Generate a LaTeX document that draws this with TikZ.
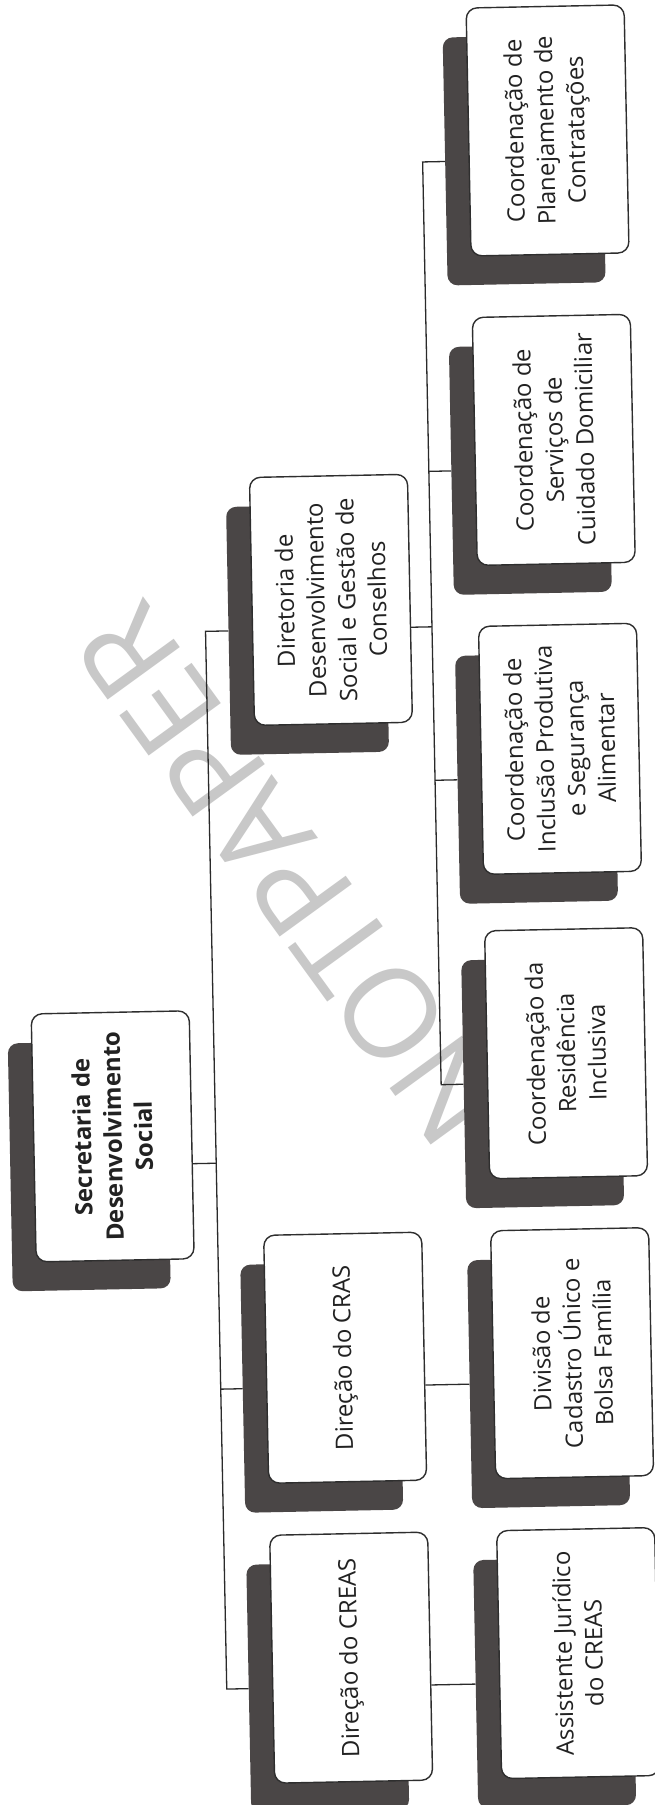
\documentclass[tikz,border=0pt]{standalone}
\usepackage{fontspec}
\setmainfont{Open Sans}
\definecolor{shadowgray}{HTML}{4A4646}
\definecolor{boxline}{HTML}{2E2E2E}
\definecolor{linecol}{HTML}{2A2A2A}
\definecolor{txt}{HTML}{222222}
\definecolor{wmgray}{HTML}{C8C8C8}
\begin{document}
\begin{tikzpicture}[x=1pt,y=1pt,
  box/.style={draw=boxline, line width=1.4pt, fill=white, rounded corners=11pt,
    rotate=90, minimum width=248pt, minimum height=158pt, inner sep=3pt,
    align=center, text=txt, font=\fontsize{24}{30.7}\selectfont},
  boxshade/.style={fill=shadowgray, rounded corners=10pt, rotate=90,
    minimum width=248pt, minimum height=158pt, inner sep=0pt},
  link/.style={draw=linecol, line width=1.3pt}]
% Page
\useasboundingbox (0,0) rectangle (654,-1805);
\fill[white] (0,0) rectangle (654,-1805);

% Watermark
\node[rotate=126, text=wmgray, font=\fontsize{125}{125}\selectfont] (wm) at (290,-875) {NOTPAPER};

\begin{scope}[rotate around={1.15:(327,-902)}, transform shape]
% Shadows and boxes
\foreach \n/\x/\y/\t in {
    plan/563/135/{Coordenação de\\Planejamento de\\Contratações},
    serv/563/444.5/{Coordenação de\\Serviços de\\Cuidado Domiciliar},
    incl/563/753.5/{Coordenação de\\Inclusão Produtiva\\e Segurança\\Alimentar},
    resid/563/1058/{Coordenação da\\Residência\\Inclusiva},
    div/563/1358/{Divisão de\\Cadastro Único e\\Bolsa Família},
    assist/563/1658/{Assistente Jurídico\\do CREAS},
    dir/337/600/{Diretoria de\\Desenvolvimento\\Social e Gestão de\\Conselhos},
    cras/336/1358/{Direção do CRAS},
    creas/336/1658/{Direção do CREAS}}
{
    \node[boxshade] (\n-s) at (\x-24,-\y-29) {};
    \node[box] (\n) at (\x,-\y) {\t};
}
\node[boxshade] (sec-s) at (84,-1161) {};
\node[box, font=\fontsize{24}{30.7}\selectfont\bfseries] (sec) at (108,-1132)
    {Secretaria de\\Desenvolvimento\\Social};

% Main trunk
\coordinate (t-dir) at (211,-629);
\coordinate (t-sec) at (211,-1161);
\coordinate (t-cras) at (211,-1387);
\coordinate (t-creas) at (211,-1687);
\draw[link] (dir-s.north) -- (t-dir) -- (t-creas) -- (creas-s.north);
\draw[link] ([yshift=-29pt]sec.south) -- (t-sec);
\draw[link] (t-cras) -- (cras-s.north);

% Diretoria trunk
\coordinate (s-plan) at (437.5,-164);
\coordinate (s-serv) at (437.5,-473.5);
\coordinate (s-dir) at (437.5,-629);
\coordinate (s-incl) at (437.5,-782.5);
\coordinate (s-resid) at (437.5,-1087);
\draw[link] (plan-s.north) -- (s-plan) -- (s-resid) -- (resid-s.north);
\draw[link] ([yshift=-29pt]dir.south) -- (s-dir);
\foreach \n in {serv, incl}
    \draw[link] (s-\n) -- (\n-s.north);

% Single children
\draw[link] ([yshift=-29pt]cras.south) -- (div-s.north);
\draw[link] ([yshift=-29pt]creas.south) -- (assist-s.north);
\end{scope}
\end{tikzpicture}
\end{document}
